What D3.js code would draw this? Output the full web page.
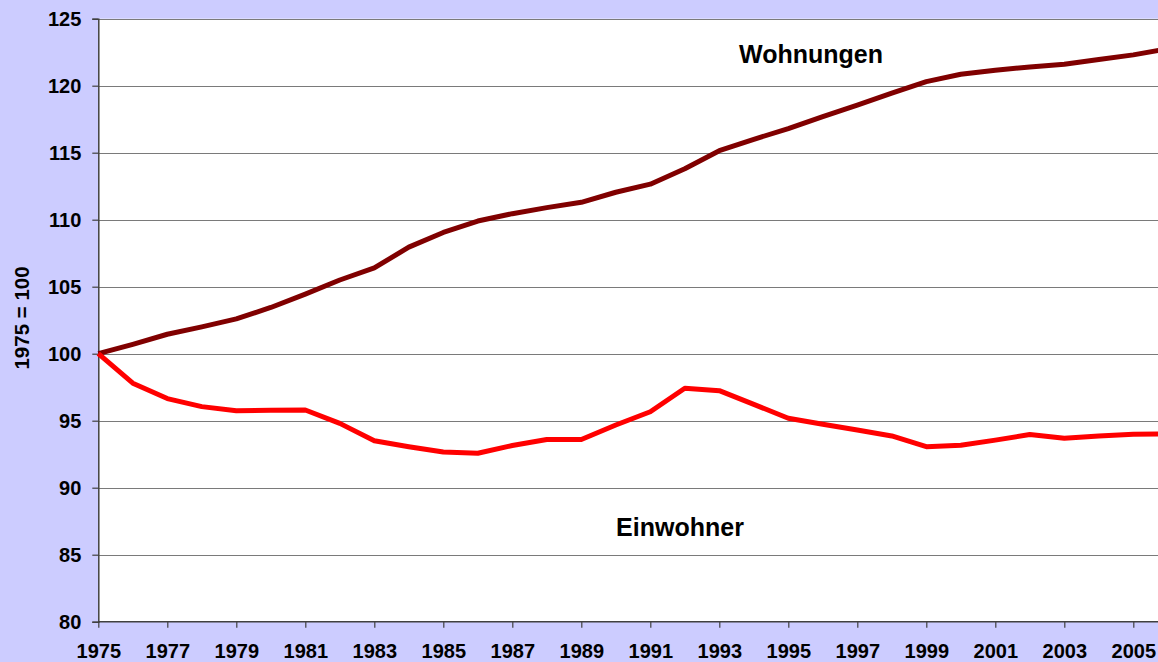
<!DOCTYPE html>
<html>
<head>
<meta charset="utf-8">
<script src="https://cdn.jsdelivr.net/npm/d3@7"></script>
<style>
  body { margin: 0; background: #ccccff; }
  svg { display: block; }
</style>
</head>
<body>
<div id="chart"></div>
<script>

// data (index 1975 = 100)
var years = [1975, 1976, 1977, 1978, 1979, 1980, 1981, 1982, 1983, 1984, 1985, 1986,
    1987, 1988, 1989, 1990, 1991, 1992, 1993, 1994, 1995, 1996, 1997, 1998, 1999,
    2000, 2001, 2002, 2003, 2004, 2005, 2006];

var wohnungen = [100.0, 100.7, 101.45, 102.0, 102.6, 103.45, 104.45, 105.5, 106.4, 107.95,
    109.05, 109.9, 110.45, 110.9, 111.3, 112.05, 112.65, 113.8, 115.15, 116.0,
    116.8, 117.7, 118.55, 119.45, 120.3, 120.85, 121.15, 121.4, 121.6, 121.95,
    122.3, 122.75];

var einwohner = [100.0, 97.8, 96.65, 96.05, 95.75, 95.78, 95.8, 94.8, 93.5, 93.06,
    92.66, 92.57, 93.15, 93.6, 93.6, 94.68, 95.67, 97.42, 97.24, 96.22,
    95.18, 94.74, 94.3, 93.86, 93.06, 93.17, 93.55, 93.97, 93.69, 93.86,
    93.98, 94.02];

var yTicks = [80, 85, 90, 95, 100, 105, 110, 115, 120, 125];
var xTicks = [1975, 1977, 1979, 1981, 1983, 1985, 1987, 1989, 1991, 1993,
    1995, 1997, 1999, 2001, 2003, 2005];

var W = 1158, H = 662;
var margin = {top: 18.7, left: 98.3};
var plotBottom = 621.7;
var font = "'Liberation Sans', Arial, sans-serif";

var svg = d3.select("#chart")
    .append("svg")
    .attr("width", W)
    .attr("height", H);

// background
svg.append("rect")
    .attr("width", W)
    .attr("height", H)
    .attr("fill", "#ccccff");

var x = d3.scaleLinear()
    .domain([1975, 2005])
    .range([margin.left, 1133.3]);

var y = d3.scaleLinear()
    .domain([80, 125])
    .range([plotBottom, margin.top]);

// plot area
svg.append("rect")
    .attr("x", x(1975))
    .attr("y", y(125))
    .attr("width", W - x(1975) + 20)
    .attr("height", y(80) - y(125))
    .attr("fill", "white");

// gridlines
svg.append("g")
    .selectAll("line")
    .data(yTicks.slice(1))
    .enter()
    .append("line")
    .attr("x1", x(1975))
    .attr("x2", W + 20)
    .attr("y1", function(d) { return Math.round(y(d)) + 0.5; })
    .attr("y2", function(d) { return Math.round(y(d)) + 0.5; })
    .attr("stroke", "#7a7a7a")
    .attr("stroke-width", 1.2);

// y axis
var yAxis = d3.axisLeft(y)
    .tickValues(yTicks)
    .tickSize(6)
    .tickPadding(11);

svg.append("g")
    .attr("class", "y axis")
    .attr("transform", "translate(" + x(1975) + ",0)")
    .call(yAxis)
    .call(function(g) {
        g.select(".domain").attr("stroke", "#404040").attr("stroke-width", 1.5);
        g.selectAll(".tick line").attr("stroke", "#404040").attr("stroke-width", 1.2);
        g.selectAll("text")
            .attr("fill", "black")
            .style("font-size", "20px")
            .style("font-weight", "bold")
            .style("font-family", font);
    });

// x axis
var xAxis = d3.axisBottom(x)
    .tickValues(xTicks)
    .tickFormat(d3.format("d"))
    .tickSize(6)
    .tickPadding(16);

svg.append("g")
    .attr("class", "x axis")
    .attr("transform", "translate(0," + plotBottom + ")")
    .call(xAxis)
    .call(function(g) {
        g.select(".domain")
            .attr("d", "M" + x(1975) + ",0H" + (W + 20))
            .attr("stroke", "#404040").attr("stroke-width", 1.5);
        g.selectAll(".tick line").attr("stroke", "#404040").attr("stroke-width", 1.2);
        g.selectAll("text")
            .attr("fill", "black")
            .style("font-size", "20px")
            .style("font-weight", "bold")
            .style("font-family", font);
    });

// y axis title
svg.append("text")
    .attr("transform", "translate(29,318) rotate(-90)")
    .attr("text-anchor", "middle")
    .attr("fill", "black")
    .style("font-size", "20.5px")
    .style("font-weight", "bold")
    .style("font-family", font)
    .text("1975 = 100");

var line = d3.line()
    .x(function(d, i) { return x(years[i]); })
    .y(function(d) { return y(d); });

svg.append("path")
    .datum(wohnungen)
    .attr("fill", "none")
    .attr("stroke", "#800000")
    .attr("stroke-width", 5)
    .attr("stroke-linejoin", "round")
    .attr("d", line);

svg.append("path")
    .datum(einwohner)
    .attr("fill", "none")
    .attr("stroke", "#ff0000")
    .attr("stroke-width", 5)
    .attr("stroke-linejoin", "round")
    .attr("d", line);

// series labels
svg.append("text")
    .attr("x", 811)
    .attr("y", 63)
    .attr("text-anchor", "middle")
    .attr("fill", "black")
    .style("font-size", "25px")
    .style("font-weight", "bold")
    .style("font-family", font)
    .text("Wohnungen");

svg.append("text")
    .attr("x", 680)
    .attr("y", 536)
    .attr("text-anchor", "middle")
    .attr("fill", "black")
    .style("font-size", "25px")
    .style("font-weight", "bold")
    .style("font-family", font)
    .text("Einwohner");

</script>
</body>
</html>
